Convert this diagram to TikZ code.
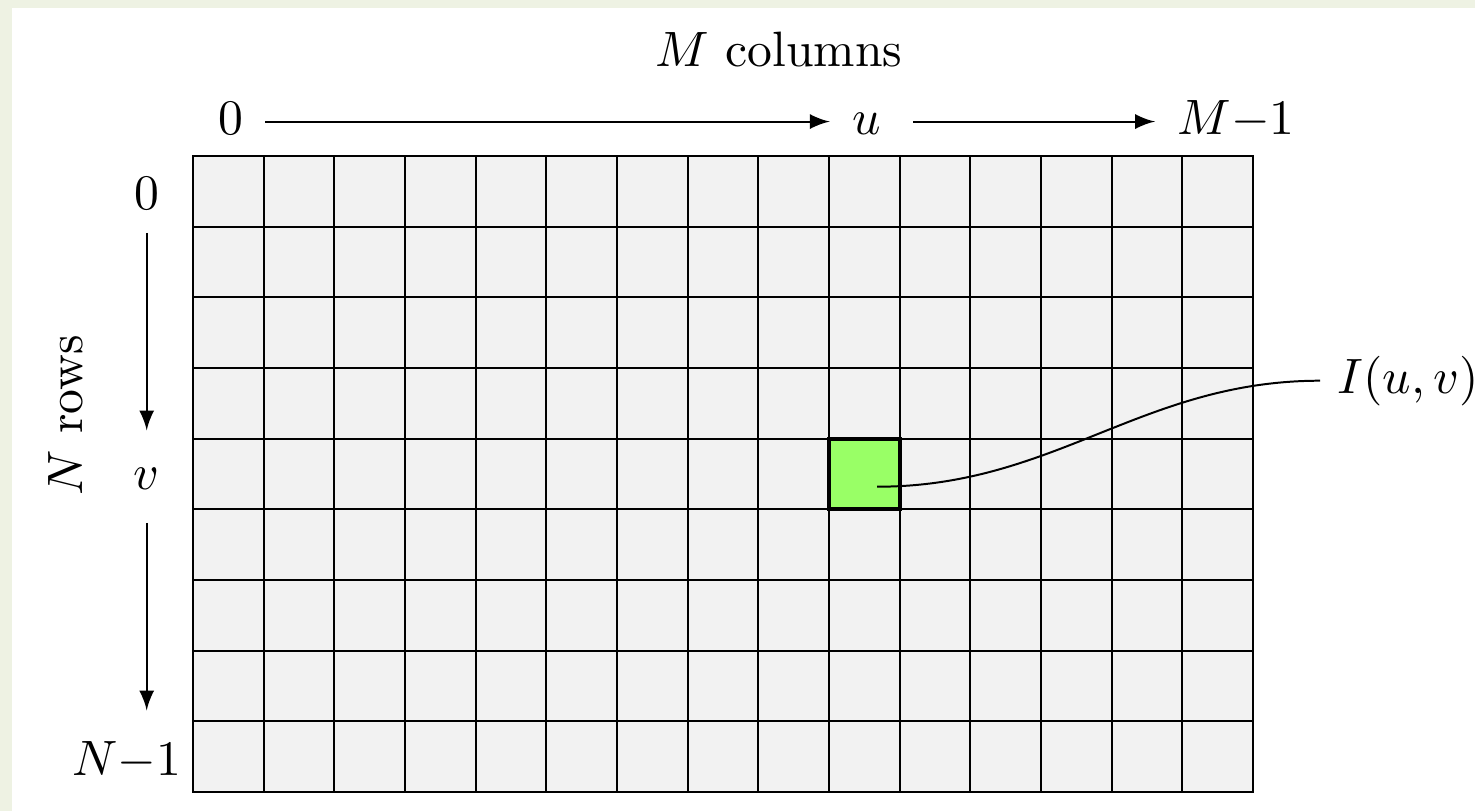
\documentclass[tikz,border=0pt]{standalone}
\usepackage{amsmath}
\usepackage{xcolor}
\usepackage{tikz}
\usetikzlibrary{arrows, positioning, calc}
\definecolor{slidebg}{RGB}{238,242,227}
\definecolor{pixgreen}{RGB}{153,255,102}
\definecolor{cellgray}{RGB}{242,242,242}
\tikzstyle{idx} = [text height=1.5ex, text depth=0.25ex]
\tikzstyle{arrow} = [->,>=latex]

\begin{document}
\begin{tikzpicture}[x=0.5cm, y=0.5cm, cell/.style={draw, fill=cellgray}]
    % slide background
    \fill[slidebg] (-2.731,-9.268) rectangle (18.141,2.207);
    \fill[white] (-2.561,-9.268) rectangle (18.141,2.094);
    \useasboundingbox (-2.731,-9.268) rectangle (18.141,2.207);
    % image grid
    \draw[cell] (0,0) rectangle (15,-9);
    \draw[step=0.5cm] (0,0) grid (15,-9);
    \draw[thick, fill=pixgreen] (9,-4) rectangle (10,-5);
    \coordinate (pix) at (9.68,-4.68);
    % column indices
    \node (mcols) at (8.29,1.504) {$M$ columns};
    \node[idx] (col0) at (0.53,0.487) {$0$};
    \node[idx] (colu) at (9.53,0.487) {$u$};
    \node[idx] (colM) at (14.76,0.487) {$M{-}1$};
    \draw[arrow, shorten <=1pt, shorten >=1pt] (col0) -- (colu);
    \draw[arrow, shorten <=3pt, shorten >=1pt] (colu) -- (colM);
    % row indices
    \node[rotate=90] (nrows) at (-1.80,-3.67) {$N$ rows};
    \node[idx] (row0) at (-0.655,-0.575) {$0$};
    \node[idx] (rowv) at (-0.655,-4.537) {$v$};
    \node[idx] (rowN) at (-0.94,-8.57) {$N{-}1$};
    \draw[arrow, shorten >=2pt] (row0) -- (rowv);
    \draw[arrow, shorten <=2pt, shorten >=3pt] (rowv) -- (rowv |- rowN.north);
    % pixel label
    \node[anchor=west] (pixlabel) at (15.95,-3.18) {$I(u,v)$};
    \draw (pix) to[out=0, in=180] (pixlabel);
\end{tikzpicture}
\end{document}
